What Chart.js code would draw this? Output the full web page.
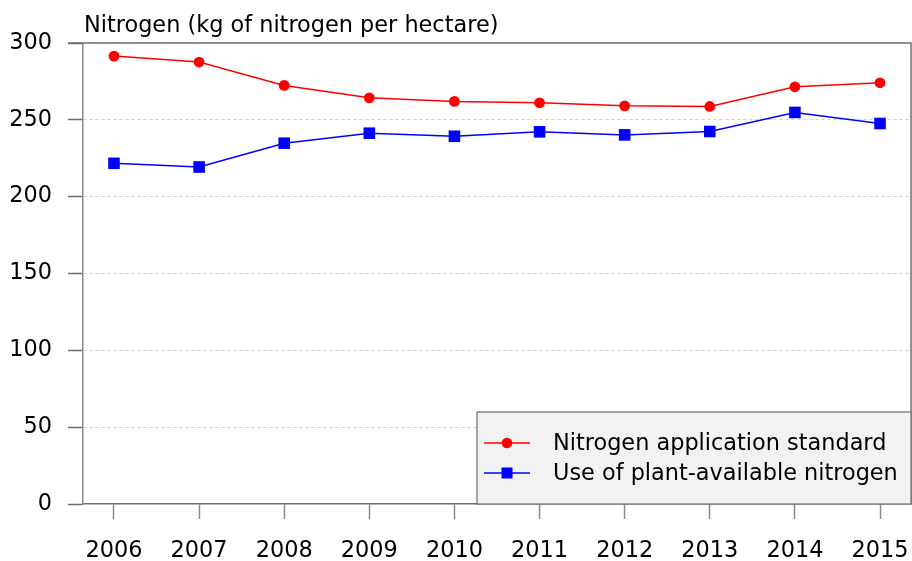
<!DOCTYPE html>
<html>
<head>
<meta charset="utf-8">
<script src="https://cdn.jsdelivr.net/npm/chart.js@4"></script>
<style>
  html, body { margin: 0; padding: 0; background: #fff; }
  #wrap { width: 912px; height: 561px; }
</style>
</head>
<body>
<div id="wrap"><canvas id="nitrogen-chart" width="912" height="561"></canvas></div>
<script>
const years = [2006, 2007, 2008, 2009, 2010, 2011, 2012, 2013, 2014, 2015];
const standardValues = [291.5, 287.6, 272.4, 264.3, 262.0, 261.1, 259.1, 258.7, 271.5, 274.1];
const usedValues = [221.7, 219.3, 234.8, 241.3, 239.3, 242.2, 240.2, 242.4, 254.8, 247.6];
const yTicks = [0, 50, 100, 150, 200, 250, 300];
const titleText = 'Nitrogen (kg of nitrogen per hectare)';
const seriesNames = ['Nitrogen application standard', 'Use of plant-available nitrogen'];

const FONT = '"DejaVu Sans", "Liberation Sans", Arial, sans-serif';
const FONT_SIZE = 22.4;
const AXIS = '#6e6e6e';

// frame, title and the legend box inside the plot
const extras = {
    id: 'extras',
    afterDraw(chart) {
        const ctx = chart.ctx;
        const a = chart.chartArea;
        ctx.save();
        ctx.strokeStyle = AXIS;
        ctx.lineWidth = 1.5;
        ctx.beginPath();
        ctx.moveTo(a.left - 15, a.top);
        ctx.lineTo(a.right, a.top);
        ctx.lineTo(a.right, a.bottom);
        ctx.stroke();

        ctx.fillStyle = '#000';
        ctx.font = FONT_SIZE + 'px ' + FONT;
        ctx.textBaseline = 'middle';
        ctx.textAlign = 'left';
        ctx.fillText(titleText, a.left + 1, a.top - 17);

        // legend
        const bx = a.left + 394, by = a.top + 369;
        const bw = a.right - bx, bh = a.bottom - by;
        ctx.fillStyle = '#f2f2f2';
        ctx.fillRect(bx, by, bw, bh);
        ctx.strokeStyle = AXIS;
        ctx.lineWidth = 1.2;
        ctx.strokeRect(bx, by, bw, bh);

        chart.data.datasets.forEach((ds, i) => {
            const y = by + 31 + i * 30;
            ctx.strokeStyle = ds.borderColor;
            ctx.lineWidth = ds.borderWidth;
            ctx.beginPath();
            ctx.moveTo(bx + 7, y);
            ctx.lineTo(bx + 53, y);
            ctx.stroke();
            ctx.fillStyle = ds.pointBackgroundColor;
            if (ds.pointStyle === 'rect') {
                ctx.fillRect(bx + 30 - 5.5, y - 5.5, 11, 11);
            } else {
                ctx.beginPath();
                ctx.arc(bx + 30, y, 5.3, 0, Math.PI * 2);
                ctx.fill();
            }
            ctx.fillStyle = '#000';
            ctx.font = FONT_SIZE + 'px ' + FONT;
            ctx.textAlign = 'left';
            ctx.textBaseline = 'middle';
            ctx.fillText(ds.label, bx + 76, y + 1);
        });
        ctx.restore();
    }
};

const config = {
    type: 'line',
    data: {
        datasets: [{
            label: seriesNames[0],
            data: years.map((yr, i) => ({ x: yr, y: standardValues[i] })),
            borderColor: '#ff0000',
            backgroundColor: '#ff0000',
            pointBackgroundColor: '#ff0000',
            pointBorderColor: '#ff0000',
            borderWidth: 1.5,
            pointStyle: 'circle',
            pointRadius: 5.4,
            pointBorderWidth: 0,
            tension: 0,
            fill: false
        }, {
            label: seriesNames[1],
            data: years.map((yr, i) => ({ x: yr, y: usedValues[i] })),
            borderColor: '#0000ff',
            backgroundColor: '#0000ff',
            pointBackgroundColor: '#0000ff',
            pointBorderColor: '#0000ff',
            borderWidth: 1.5,
            pointStyle: 'rect',
            pointRadius: 8.2,
            pointBorderWidth: 0,
            tension: 0,
            fill: false
        }]
    },
    options: {
        responsive: false,
        animation: false,
        layout: { autoPadding: false, padding: { top: 43, right: 1, left: 0, bottom: 0 } },
        plugins: {
            legend: { display: false },
            tooltip: { enabled: false },
            title: { display: false }
        },
        scales: {
            x: {
                type: 'linear',
                min: 2005.636,
                max: 2015.364,
                afterBuildTicks: (scale) => { scale.ticks = years.map(v => ({ value: v })); },
                afterFit: (scale) => {
                    scale.height = 57;
                    scale.paddingLeft = 0;
                    scale.paddingRight = 0;
                },
                grid: {
                    drawOnChartArea: false,
                    drawTicks: true,
                    tickLength: 15,
                    tickColor: '#8a8a8a',
                    tickWidth: 1.5
                },
                border: { display: true, color: AXIS, width: 1.5 },
                ticks: {
                    autoSkip: false,
                    maxRotation: 0,
                    padding: 19,
                    color: '#000',
                    font: { family: FONT, size: FONT_SIZE },
                    callback: (v) => String(v)
                }
            },
            y: {
                min: 0,
                max: 300,
                afterBuildTicks: (scale) => { scale.ticks = yTicks.map(v => ({ value: v })); },
                afterFit: (scale) => {
                    scale.width = 83;
                    scale.paddingTop = 0;
                    scale.paddingBottom = 0;
                },
                grid: {
                    color: (c) => (c.tick && (c.tick.value === 0 || c.tick.value === 300)) ? 'rgba(0,0,0,0)' : '#cfcfcf',
                    lineWidth: 1,
                    drawTicks: true,
                    tickLength: 15,
                    tickColor: AXIS,
                    tickWidth: 1.5
                },
                border: { display: true, color: '#8a8a8a', width: 1.5, dash: [3, 3] },
                ticks: {
                    padding: 16,
                    color: '#000',
                    font: { family: FONT, size: FONT_SIZE }
                }
            }
        }
    },
    plugins: [extras]
};

new Chart(document.getElementById('nitrogen-chart'), config);
</script>
</body>
</html>
